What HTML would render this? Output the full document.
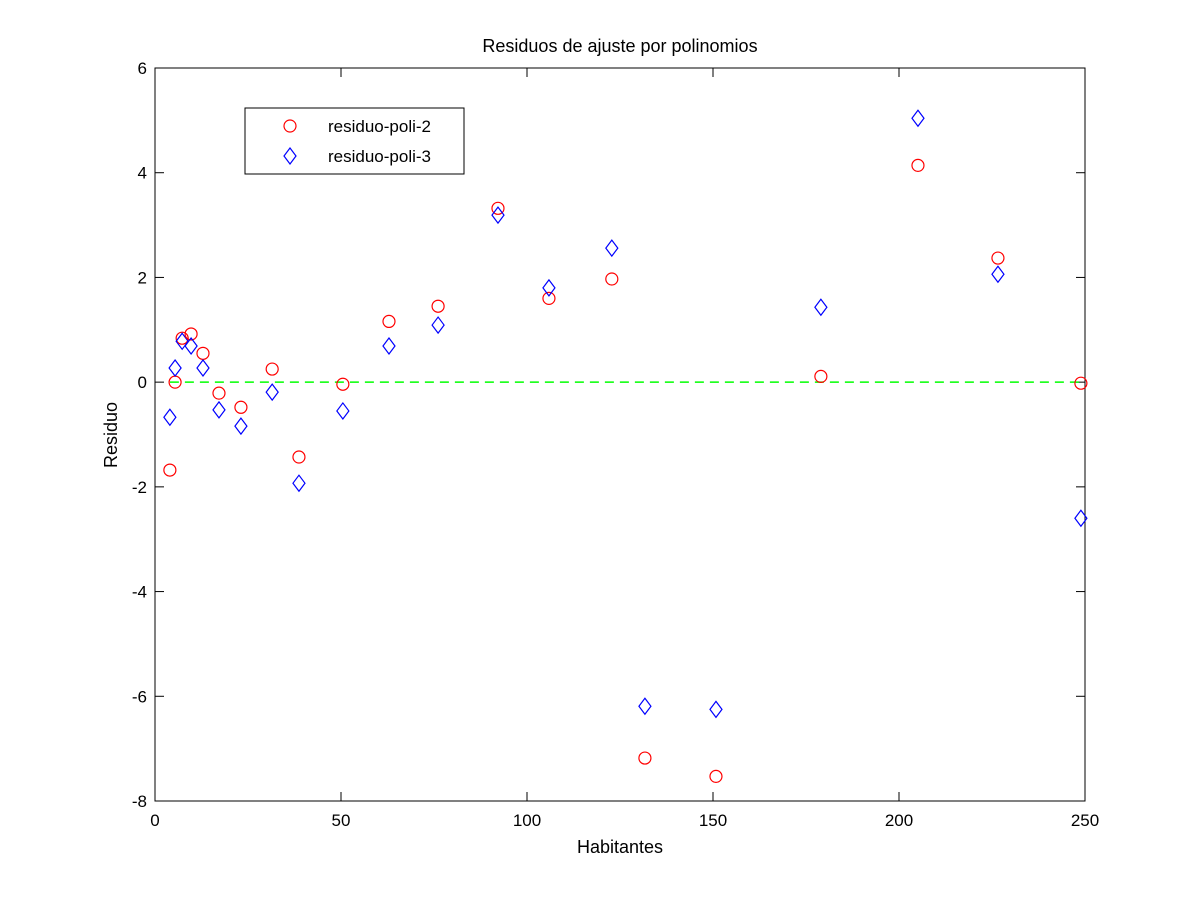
<!DOCTYPE html>
<html><head><meta charset="utf-8"><style>body{margin:0;background:#fff}svg{display:block;font-family:"Liberation Sans",sans-serif}</style></head>
<body>
<svg id="c" width="1200" height="900"></svg>
<script>
const xs=[4.0,5.4,7.3,9.7,12.9,17.2,23.1,31.5,38.7,50.5,62.9,76.1,92.2,105.9,122.8,131.7,150.8,179.0,205.1,226.6,248.9];
const res2=[-1.68,0.0,0.84,0.92,0.55,-0.21,-0.48,0.25,-1.43,-0.04,1.16,1.45,3.32,1.6,1.97,-7.18,-7.53,0.11,4.14,2.37,-0.02];
const res3=[-0.67,0.27,0.78,0.69,0.27,-0.53,-0.84,-0.19,-1.93,-0.55,0.69,1.09,3.19,1.8,2.56,-6.19,-6.25,1.43,5.04,2.06,-2.60];
const xTicks=[0,50,100,150,200,250];
const yTicks=[-8,-6,-4,-2,0,2,4,6];
const L=155,R=1085,T=68,B=801;
const X=v=>L+(v-0)/250*(R-L), Y=v=>B-(v+8)/14*(B-T);
const s=document.getElementById('c'),NS='http://www.w3.org/2000/svg';
function mk(t,a,p){const e=document.createElementNS(NS,t);for(const k in a)e.setAttribute(k,a[k]);(p||s).appendChild(e);return e;}
let e=mk('rect',{x:L,y:T,width:R-L,height:B-T,fill:'#fff',stroke:'#000','stroke-width':1});


xTicks.forEach(v=>{const x=X(v);mk('line',{x1:x,y1:B,x2:x,y2:B-9,stroke:'#000'});mk('line',{x1:x,y1:T,x2:x,y2:T+9,stroke:'#000'});
const t=mk('text',{x:x,y:B+25,'text-anchor':'middle','font-size':17});t.textContent=v;

});
yTicks.forEach(v=>{const y=Y(v);mk('line',{x1:L,y1:y,x2:L+9,y2:y,stroke:'#000'});mk('line',{x1:R,y1:y,x2:R-9,y2:y,stroke:'#000'});
const t=mk('text',{x:L-8,y:y+6,'text-anchor':'end','font-size':17});t.textContent=v;

});
e=mk('line',{x1:X(xs[0]),y1:Y(0),x2:X(xs[xs.length-1]),y2:Y(0),stroke:'#00ff00','stroke-width':1.5,'stroke-dasharray':'9,6'});


function circ(x,y){return mk('circle',{cx:x,cy:y,r:6,fill:'none',stroke:'#ff0000','stroke-width':1.2});}
function dia(x,y){return mk('polygon',{points:`${x},${y-8} ${x+6},${y} ${x},${y+8} ${x-6},${y}`,fill:'none',stroke:'#0000ff','stroke-width':1.2});}
xs.forEach((v,i)=>{let c=circ(X(v),Y(res2[i]));


let d=dia(X(v),Y(res3[i]));

});
e=mk('rect',{x:245,y:108,width:219,height:66,fill:'#fff',stroke:'#000'});


circ(290,126);dia(290,156);
let t=mk('text',{x:328,y:132,'font-size':17});t.textContent='residuo-poli-2';


t=mk('text',{x:328,y:162,'font-size':17});t.textContent='residuo-poli-3';


t=mk('text',{x:620,y:52,'text-anchor':'middle','font-size':18});t.textContent='Residuos de ajuste por polinomios';


t=mk('text',{x:620,y:853,'text-anchor':'middle','font-size':18});t.textContent='Habitantes';


t=mk('text',{x:117,y:435,'text-anchor':'middle','font-size':18,transform:'rotate(-90 117 435)'});t.textContent='Residuo';


</script>
</body></html>
